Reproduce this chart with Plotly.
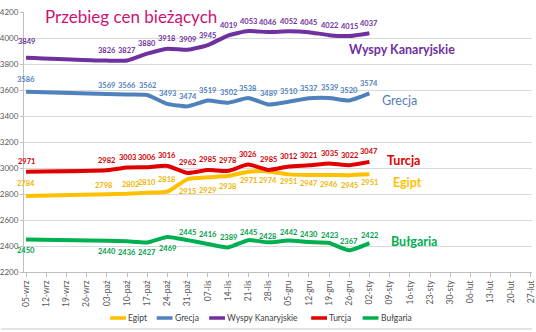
import plotly.graph_objects as go

categories = ['05-wrz','12-wrz','19-wrz','26-wrz','03-paź','10-paź','17-paź','24-paź','31-paź',
              '07-lis','14-lis','21-lis','28-lis','05-gru','12-gru','19-gru','26-gru','02-sty',
              '09-sty','16-sty','23-sty','30-sty','06-lut','13-lut','20-lut','27-lut']
dates = ['05-wrz','03-paź','10-paź','17-paź','24-paź','31-paź','07-lis','14-lis','21-lis',
         '28-lis','05-gru','12-gru','19-gru','26-gru','02-sty']

egipt = [2784, 2798, 2802, 2810, 2818, 2915, 2929, 2938, 2971, 2974, 2951, 2947, 2946, 2945, 2951]
grecja = [3586, 3569, 3566, 3562, 3493, 3474, 3519, 3502, 3538, 3489, 3510, 3537, 3539, 3520, 3574]
wyspy = [3849, 3826, 3827, 3880, 3918, 3909, 3945, 4019, 4053, 4046, 4052, 4045, 4022, 4015, 4037]
turcja = [2971, 2982, 3003, 3006, 3016, 2962, 2985, 2978, 3026, 2985, 3012, 3021, 3035, 3022, 3047]
bulgaria = [2450, 2440, 2436, 2427, 2469, 2445, 2416, 2389, 2445, 2428, 2442, 2430, 2423, 2367, 2422]

names = ['Egipt', 'Grecja', 'Wyspy Kanaryjskie', 'Turcja', 'Bułgaria']
y_ticks = [2200, 2400, 2600, 2800, 3000, 3200, 3400, 3600, 3800, 4000, 4200]

# styles
colors = {'Egipt': '#FFC000', 'Grecja': '#4F81BD', 'Wyspy Kanaryjskie': '#7030A0',
          'Turcja': '#E00000', 'Bułgaria': '#00B050'}
label_colors = {'Egipt': '#F0B400', 'Grecja': '#4F81BD', 'Wyspy Kanaryjskie': '#7030A0',
                'Turcja': '#D00000', 'Bułgaria': '#00A04A'}
shifts = {
    'Egipt': [13, 9, 9, 10, 12, -12, -13, -10, -9, -9, -7, -9, -9, -10, -8],
    'Grecja': [12, 9, 9, 9, 10, 10, 10, 10, 10, 11, 10, 10, 10, 10, 10],
    'Wyspy Kanaryjskie': [16, 10, 10, 10, 10, 10, 10, 10, 10, 10, 10, 10, 10, 10, 10],
    'Turcja': [10, 10, 10, 10, 10, 10, 10, 10, 10, 10, 10, 10, 10, 10, 10],
    'Bułgaria': [-11, -11, -11, -10, -11, 8, 9, 10, 8, 6, 8, 8, 8, 9, 8],
}
xshifts = {
    'Egipt': [0, -3, 3, 0, 0, 0, 0, 0, 0, 0, 0, 0, 0, 0, 0],
}
series = {'Egipt': egipt, 'Grecja': grecja, 'Wyspy Kanaryjskie': wyspy,
          'Turcja': turcja, 'Bułgaria': bulgaria}

fig = go.Figure()
annotations = []
for n in names:
    fig.add_trace(go.Scatter(x=dates, y=series[n], name=n, mode='lines',
                             line=dict(color=colors[n], width=4, shape='spline', smoothing=0.5),
                             showlegend=False, hoverinfo='skip'))
    for i, (d, v) in enumerate(zip(dates, series[n])):
        annotations.append(dict(x=d, y=v, xref='x', yref='y', text=str(v), showarrow=False,
                                yshift=shifts[n][i], xshift=xshifts.get(n, [0]*15)[i],
                                font=dict(family='Lato', size=7.5, color=label_colors[n], weight='bold')))

# series name labels near the line ends
name_pos = {'Wyspy Kanaryjskie': (18.6, 3908), 'Grecja': (18.5, 3523), 'Turcja': (18.7, 3054),
            'Egipt': (18.9, 2885), 'Bułgaria': (19.2, 2431)}
for n in names:
    x, y = name_pos[n]
    annotations.append(dict(x=x, y=y, xref='x', yref='y', text=n, showarrow=False,
                            font=dict(family='Lato', size=12.5, color=colors[n],
                                      weight='normal' if n == 'Grecja' else 'bold')))

# custom legend
L, W = 23, 513
PT, PH = 12, 260
def px_x(p):
    return (p - L) / W
def px_y(p):
    return (PT + PH - p) / PH
leg_line = [110, 157, 210, 313, 365]
shapes = []
for n, lx in zip(names, leg_line):
    shapes.append(dict(type='line', xref='paper', yref='paper', x0=px_x(lx), x1=px_x(lx + 16),
                       y0=px_y(318), y1=px_y(318), line=dict(color=colors[n], width=3.5)))
    annotations.append(dict(x=px_x(lx + 16), y=px_y(318), xref='paper', yref='paper', text=n,
                            showarrow=False, xanchor='left', yanchor='middle',
                            font=dict(family='Lato', size=8.5, color='#404040')))
shapes.append(dict(type='line', xref='paper', yref='paper', x0=px_x(0), x1=px_x(536),
                   y0=px_y(329), y1=px_y(329), line=dict(color='#C8C8C8', width=1)))

fig.update_layout(
    width=536, height=332,
    margin=dict(l=L, r=0, t=PT, b=332 - PT - PH),
    paper_bgcolor='white', plot_bgcolor='white',
    title=dict(text='Przebieg cen bieżących', x=45 / 536, xanchor='left', y=1 - 17 / 332,
               yanchor='middle', font=dict(family='Lato', size=17, color='#CC1177')),
    xaxis=dict(type='category', categoryorder='array', categoryarray=categories,
               range=[-0.1, 25.05], tickangle=-90, ticks='outside', ticklen=4,
               tickcolor='#BFBFBF', showline=True, linecolor='#BFBFBF', showgrid=False,
               tickfont=dict(family='Lato', size=8.5, color='#595959'), fixedrange=True),
    yaxis=dict(range=[2200, 4200], tickvals=y_ticks, ticks='outside', ticklen=3,
               tickcolor='#BFBFBF', showline=True, linecolor='#BFBFBF',
               gridcolor='#D9D9D9', gridwidth=1, zeroline=False,
               tickfont=dict(family='Lato', size=8, color='#595959'), fixedrange=True),
    annotations=annotations, shapes=shapes, showlegend=False,
)
fig.write_html('out.html')
